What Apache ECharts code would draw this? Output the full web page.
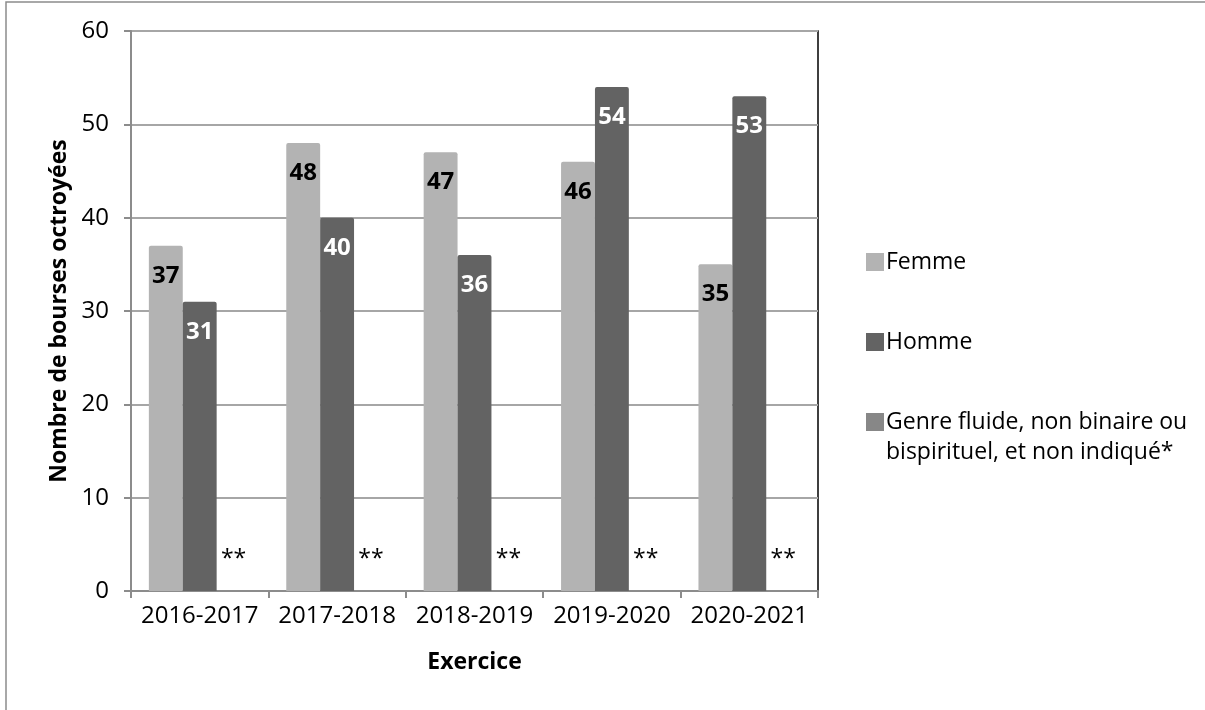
<!DOCTYPE html>
<html>
<head>
<meta charset="utf-8">
<script src="https://cdn.jsdelivr.net/npm/echarts@6/dist/echarts.min.js"></script>
<style>
html,body{margin:0;padding:0;background:#fff;}
#chart{width:1205px;height:710px;}
</style>
</head>
<body>
<div id="chart"></div>
<script>
var categories = ['2016-2017', '2017-2018', '2018-2019', '2019-2020', '2020-2021'];
var femme = [37, 48, 47, 46, 35];
var homme = [31, 40, 36, 54, 53];
var autre = [0, 0, 0, 0, 0];
var autreLabel = '**';
var seriesNames = ['Femme', 'Homme', 'Genre fluide, non binaire ou'];
var legendSecondLine = 'bispirituel, et non indiqué*';
var yTicks = [0, 10, 20, 30, 40, 50, 60];

var FONT = '"Open Sans", sans-serif';
var chart = echarts.init(document.getElementById('chart'), null, {renderer: 'canvas'});

var option = {
  animation: false,
  backgroundColor: '#ffffff',
  textStyle: {fontFamily: FONT},
  grid: {
    left: 131, right: 387, top: 31, bottom: 119,
    show: true, borderColor: '#000000', borderWidth: 1.5, backgroundColor: 'transparent'
  },
  graphic: [
    {
      type: 'rect', silent: true, z: -10,
      shape: {x: 6, y: 2, width: 1400, height: 900},
      style: {fill: 'none', stroke: '#8c8c8c', lineWidth: 1.5}
    },
    {
      type: 'text', left: 886, top: 441,
      style: {text: legendSecondLine, font: '23px ' + FONT, fill: '#000000'}
    }
  ],
  legend: {
    orient: 'vertical',
    left: 861,
    top: 242,
    itemWidth: 18,
    itemHeight: 18,
    itemGap: 50,
    icon: 'rect',
    selectedMode: false,
    data: seriesNames,
    textStyle: {fontFamily: FONT, fontSize: 23, color: '#000000', lineHeight: 30, padding: [0, 0, 0, -3]}
  },
  xAxis: {
    type: 'category',
    data: categories,
    name: 'Exercice',
    nameLocation: 'middle',
    nameGap: 60,
    nameTextStyle: {fontFamily: FONT, fontSize: 23, fontWeight: 'bold', color: '#000000'},
    axisLine: {show: true, lineStyle: {color: '#8c8c8c', width: 2}},
    axisTick: {show: true, alignWithLabel: false, interval: 0, length: 7, lineStyle: {color: '#8c8c8c', width: 2}},
    axisLabel: {interval: 0, fontFamily: FONT, fontSize: 24, color: '#000000', margin: 13}
  },
  yAxis: {
    type: 'value',
    min: yTicks[0],
    max: yTicks[yTicks.length - 1],
    interval: 10,
    name: 'Nombre de bourses octroyées',
    nameLocation: 'middle',
    nameGap: 53,
    nameTextStyle: {fontFamily: FONT, fontSize: 23, fontWeight: 'bold', color: '#000000'},
    axisLine: {show: true, lineStyle: {color: '#8c8c8c', width: 2}},
    axisTick: {show: true, length: 7, lineStyle: {color: '#8c8c8c', width: 2}},
    axisLabel: {fontFamily: FONT, fontSize: 24, color: '#000000', margin: 22},
    splitLine: {show: true, lineStyle: {color: '#a6a6a6', width: 2}}
  },
  series: [
    {
      name: seriesNames[0],
      type: 'bar',
      data: femme,
      barGap: '0%',
      barCategoryGap: '26%',
      itemStyle: {color: '#b3b3b3', borderRadius: [2, 2, 0, 0]},
      label: {show: true, position: 'insideTop', distance: 18, fontFamily: FONT, fontSize: 24, fontWeight: 'bold', color: '#000000'}
    },
    {
      name: seriesNames[1],
      type: 'bar',
      data: homme,
      barGap: '0%',
      barCategoryGap: '26%',
      itemStyle: {color: '#636363', borderRadius: [2, 2, 0, 0]},
      label: {show: true, position: 'insideTop', distance: 18, fontFamily: FONT, fontSize: 24, fontWeight: 'bold', color: '#ffffff'}
    },
    {
      name: seriesNames[2],
      type: 'bar',
      data: autre,
      barGap: '0%',
      barCategoryGap: '26%',
      itemStyle: {color: '#878787'},
      label: {show: true, position: 'top', distance: 20, fontFamily: FONT, fontSize: 23, color: '#000000', formatter: function () { return autreLabel; }}
    }
  ]
};
chart.setOption(option);
</script>
</body>
</html>
